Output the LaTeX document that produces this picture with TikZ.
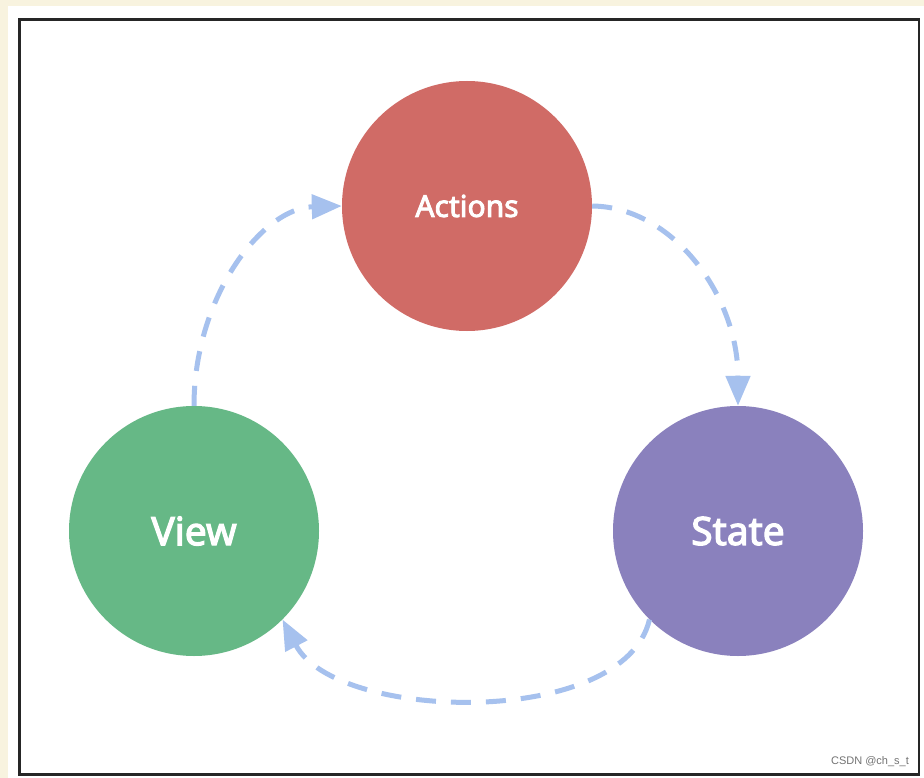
\documentclass[tikz,border=0pt]{standalone}
\usepackage{fontspec}
\newfontfamily\labfont{Noto Sans}[FakeBold=3]
\newfontfamily\wmfont{Liberation Sans}
\usetikzlibrary{arrows.meta}
\definecolor{cream}{HTML}{F8F3DF}
\definecolor{actcol}{HTML}{D06B66}
\definecolor{viewcol}{HTML}{66B886}
\definecolor{statecol}{HTML}{8A81BD}
\definecolor{arrcol}{HTML}{A6C1EE}
\tikzset{
  bubble/.style={circle, minimum size=250pt, inner sep=0pt, text=white},
  flow/.style={draw=arrcol, line width=5pt, dash pattern=on 20pt off 15pt,
    -{Triangle[length=30pt,width=24pt,fill=arrcol]}}
}
\begin{document}
\begin{tikzpicture}[x=1pt,y=-1pt]
\useasboundingbox (0,0) rectangle (924,778);
\fill[cream] (0,0) rectangle (924,778);
\fill[white] (8,6) rectangle (924,778);
\draw[line width=2.5pt, black!85] (19.5,19.5) rectangle (919,774.5);

\node[bubble, fill=actcol, font=\labfont\fontsize{30}{34}\selectfont] (actions) at (467,206) {\raisebox{-3pt}{Actions}};
\node[bubble, fill=viewcol, font=\labfont\fontsize{39}{44}\selectfont] (view) at (194,531) {\raisebox{-2pt}{View}};
\node[bubble, fill=statecol, font=\labfont\fontsize{39}{44}\selectfont] (state) at (738,531) {\raisebox{-2pt}{State}};

\draw[flow] (view.north) .. controls (194,297) and (262,208) .. (actions.west);
\draw[flow] (actions.east) .. controls (673,207) and (738,296) .. (state.north);
\draw[flow] (state.south west) .. controls (624,729) and (336,722) .. (view.south east);

\node[text=black!55, font=\wmfont\fontsize{11}{13}\selectfont] (wm) at (870,762) {CSDN @ch\_s\_t};
\end{tikzpicture}
\end{document}
